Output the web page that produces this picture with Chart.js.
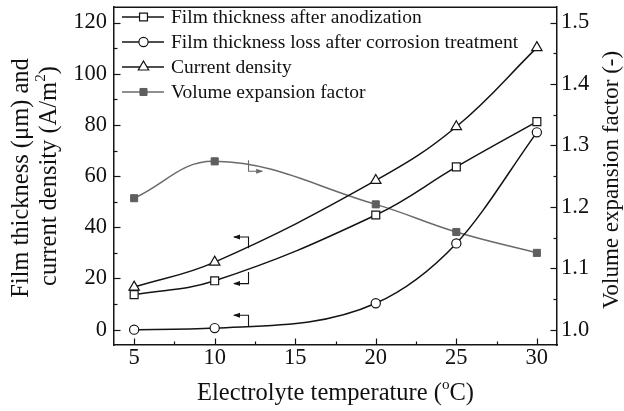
<!DOCTYPE html>
<html><head><meta charset="utf-8">
<script src="https://cdn.jsdelivr.net/npm/chart.js@4/dist/chart.umd.min.js"></script>
<style>html,body{margin:0;padding:0;background:#fff}canvas{display:block}</style>
</head><body>
<canvas id="c" width="624" height="411"></canvas>
<script>
// ---- data ----
const temperature = [5, 10, 20, 25, 30];
const filmAfterAnodization = [13.7, 19.1, 44.8, 63.6, 81.3];
const filmLossAfterCorrosion = [0, 0.6, 10.3, 33.7, 77.1];
const currentDensity = [16.6, 26.4, 58.3, 79.3, 110.2];
const volumeExpansion = [1.214, 1.274, 1.204, 1.159, 1.125];
const xTickValues = [5, 10, 15, 20, 25, 30];
const yLeftTickValues = [0, 20, 40, 60, 80, 100, 120];
const yRightTickValues = [1.0, 1.1, 1.2, 1.3, 1.4, 1.5];
const seriesNames = ['Film thickness after anodization', 'Film thickness loss after corrosion treatment', 'Current density', 'Volume expansion factor'];
// axis-pointer arrows: [x, yStart, yEnd, xEnd, axis]
const pointerArrows = [
  [12.1, 31.8, 36.2, 11.2, 'y'],
  [12.1, 22.5, 18.0, 11.2, 'y'],
  [12.1, 1.0, 5.6, 11.2, 'y'],
  [12.1, 1.276, 1.258, 12.95, 'y1']
];

const BLACK = '#141414', GRAY = '#6a6a6a';
const FONT = '"Liberation Serif", "Times New Roman", serif';

function setTicks(vals){ return function(scale){ scale.ticks = vals.map(v => ({value: v})); }; }
function noPad(sc){ sc.paddingTop = 0; sc.paddingBottom = 0; sc.paddingLeft = 0; sc.paddingRight = 0; }

function drawRich(ctx, parts, x, y, size){
  let w = 0;
  parts.forEach(p => { ctx.font = (p.sup ? size*0.62 : size) + 'px ' + FONT; p.w = ctx.measureText(p.t).width; w += p.w; });
  let cx = x - w/2;
  parts.forEach(p => {
    ctx.font = (p.sup ? size*0.62 : size) + 'px ' + FONT;
    ctx.fillText(p.t, cx, p.sup ? y - size*0.36 : y);
    cx += p.w;
  });
}

const decor = {
  id: 'decor',
  afterDraw(chart){
    const ctx = chart.ctx, a = chart.chartArea, s = chart.scales;
    ctx.save();
    ctx.strokeStyle = BLACK; ctx.lineWidth = 1.5;
    ctx.beginPath(); ctx.moveTo(a.left, a.top); ctx.lineTo(a.right, a.top); ctx.stroke();
    ctx.lineWidth = 1.2;
    const tk = (x1,y1,x2,y2)=>{ctx.beginPath();ctx.moveTo(x1,y1);ctx.lineTo(x2,y2);ctx.stroke();};
    for (let v = 5; v <= 30.001; v += 2.5){
      const px = Math.round(s.x.getPixelForValue(v)) + 0.5;
      const major = Math.abs(v % 5) < 1e-6;
      tk(px, a.bottom, px, a.bottom - (major ? 6.5 : 3.5));
    }
    for (let v = 0; v <= 120.001; v += 10){
      const py = Math.round(s.y.getPixelForValue(v)) + 0.5;
      const major = v % 20 === 0;
      tk(a.left, py, a.left + (major ? 6.5 : 3.5), py);
    }
    for (let i = 0; i <= 10; i++){
      const v = 1 + i*0.05;
      const py = Math.round(s.y1.getPixelForValue(v)) + 0.5;
      tk(a.right, py, a.right - (i % 2 === 0 ? 6.5 : 3.5), py);
    }
    pointerArrows.forEach(ar => {
      const ys = s[ar[4]];
      const col = ar[4] === 'y1' ? GRAY : BLACK;
      ctx.strokeStyle = col; ctx.fillStyle = col; ctx.lineWidth = 1.1;
      const x0 = s.x.getPixelForValue(ar[0]), y0 = ys.getPixelForValue(ar[1]), y1 = ys.getPixelForValue(ar[2]);
      const xe = s.x.getPixelForValue(ar[3]);
      ctx.beginPath(); ctx.moveTo(x0, y0); ctx.lineTo(x0, y1); ctx.lineTo(xe, y1); ctx.stroke();
      const d = xe < x0 ? -1 : 1;
      ctx.beginPath(); ctx.moveTo(xe + d*1, y1); ctx.lineTo(xe - d*6, y1 - 2.5); ctx.lineTo(xe - d*6, y1 + 2.5); ctx.closePath(); ctx.fill();
    });
    const rows = [17, 42, 67, 92];
    chart.data.datasets.forEach((ds, i) => {
      const y = rows[i];
      ctx.strokeStyle = ds.borderColor; ctx.lineWidth = 1.5;
      ctx.beginPath(); ctx.moveTo(122, y); ctx.lineTo(164, y); ctx.stroke();
      ctx.fillStyle = ds.pointBackgroundColor; ctx.strokeStyle = ds.pointBorderColor; ctx.lineWidth = ds.pointBorderWidth;
      Chart.helpers.drawPoint(ctx, {pointStyle: ds.pointStyle, radius: ds.pointRadius, borderWidth: ds.pointBorderWidth, rotation: 0}, 143.5, y);
      ctx.fillStyle = '#111'; ctx.font = '19.5px ' + FONT; ctx.textBaseline = 'middle'; ctx.textAlign = 'left';
      ctx.fillText(ds.label, 171, y + 1);
    });
    ctx.fillStyle = '#111'; ctx.textAlign = 'left'; ctx.textBaseline = 'middle';
    drawRich(ctx, [{t:'Electrolyte temperature ('},{t:'o',sup:true},{t:'C)'}], (a.left + a.right)/2, 394, 24.5);
    ctx.save(); ctx.translate(22, 178); ctx.rotate(-Math.PI/2);
    drawRich(ctx, [{t:'Film thickness (μm) and'}], 0, 0, 24.5);
    ctx.restore();
    ctx.save(); ctx.translate(50, 176); ctx.rotate(-Math.PI/2);
    drawRich(ctx, [{t:'current density (A/m'},{t:'2',sup:true},{t:')'}], 0, 0, 24.5);
    ctx.restore();
    ctx.save(); ctx.translate(612, 180); ctx.rotate(-Math.PI/2);
    drawRich(ctx, [{t:'Volume expansion factor (-)'}], 0, 0, 23);
    ctx.restore();
    ctx.restore();
  }
};

const pts = (ys) => temperature.map((x, i) => ({x, y: ys[i]}));
const tickFont = {family: FONT, size: 22.5};

new Chart(document.getElementById('c'), {
  type: 'line',
  data: {
    datasets: [
      {label: seriesNames[0], data: pts(filmAfterAnodization), yAxisID: 'y', borderColor: BLACK, borderWidth: 1.5, tension: 0.4,
       pointStyle: 'rect', pointRadius: 5.6, pointBorderWidth: 1.2, pointBackgroundColor: '#fff', pointBorderColor: BLACK},
      {label: seriesNames[1], data: pts(filmLossAfterCorrosion), yAxisID: 'y', borderColor: BLACK, borderWidth: 1.5, tension: 0.4, cubicInterpolationMode: 'monotone',
       pointStyle: 'circle', pointRadius: 4.6, pointBorderWidth: 1.2, pointBackgroundColor: '#fff', pointBorderColor: BLACK},
      {label: seriesNames[2], data: pts(currentDensity), yAxisID: 'y', borderColor: BLACK, borderWidth: 1.5, tension: 0.4,
       pointStyle: 'triangle', pointRadius: 6, pointBorderWidth: 1.2, pointBackgroundColor: '#fff', pointBorderColor: BLACK},
      {label: seriesNames[3], data: pts(volumeExpansion), yAxisID: 'y1', borderColor: GRAY, borderWidth: 1.5, tension: 0.4,
       pointStyle: 'rect', pointRadius: 5, pointBorderWidth: 1, pointBackgroundColor: '#5e5e5e', pointBorderColor: '#5e5e5e'}
    ]
  },
  options: {
    responsive: false, animation: false, devicePixelRatio: 1,
    layout: {padding: {top: 7, left: 0, right: 0, bottom: 0}},
    plugins: {legend: {display: false}, tooltip: {enabled: false}},
    elements: {line: {fill: false}},
    scales: {
      x: {type: 'linear', position: 'bottom', min: 3.75, max: 31.25,
          afterBuildTicks: setTicks(xTickValues),
          afterFit(sc){ sc.height = 66; noPad(sc); },
          grid: {display: false, drawTicks: false},
          border: {display: true, color: BLACK, width: 1.5},
          ticks: {font: tickFont, color: '#111', padding: 0, maxRotation: 0, autoSkip: false}},
      y: {type: 'linear', position: 'left', min: -6, max: 126,
          afterBuildTicks: setTicks(yLeftTickValues),
          afterFit(sc){ sc.width = 114; noPad(sc); },
          grid: {display: false, drawTicks: false},
          border: {display: true, color: BLACK, width: 1.5},
          ticks: {font: tickFont, color: '#111', padding: 7, autoSkip: false}},
      y1: {type: 'linear', position: 'right', min: 0.975, max: 1.525,
          afterBuildTicks: setTicks(yRightTickValues),
          afterFit(sc){ sc.width = 67; noPad(sc); },
          grid: {display: false, drawTicks: false},
          border: {display: true, color: BLACK, width: 1.5},
          ticks: {font: tickFont, color: '#111', padding: 4, autoSkip: false, callback: v => v.toFixed(1)}}
    }
  },
  plugins: [decor]
});
</script>
</body></html>
